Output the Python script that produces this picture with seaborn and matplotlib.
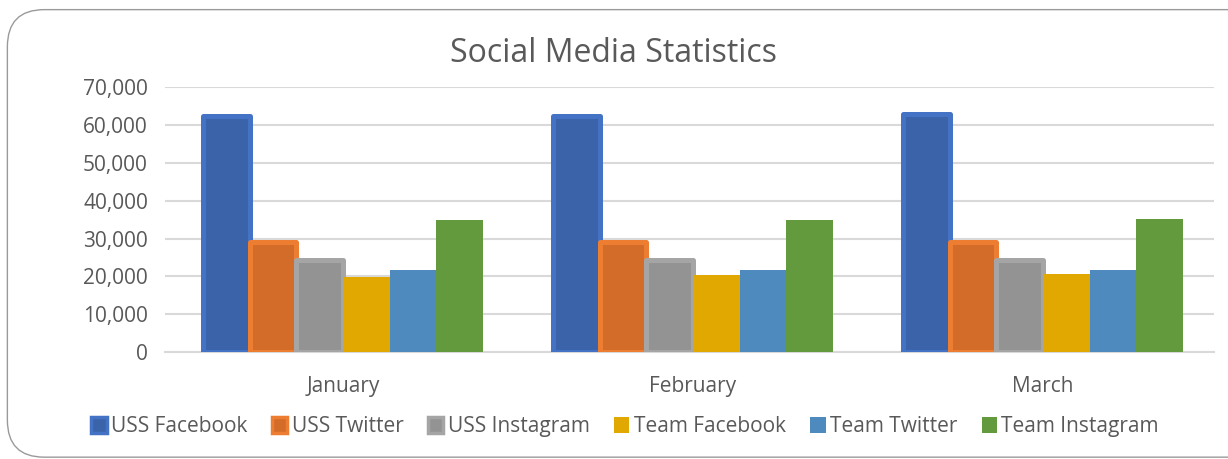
import pandas as pd
import matplotlib.pyplot as plt
import seaborn as sns
from matplotlib.patches import FancyBboxPatch
from matplotlib.ticker import FuncFormatter

# ---- data ----
months = ["January", "February", "March"]
series = ["USS Facebook", "USS Twitter", "USS Instagram",
          "Team Facebook", "Team Twitter", "Team Instagram"]
uss_facebook = [62300, 62500, 62900]
uss_twitter = [29000, 29000, 29000]
uss_instagram = [24300, 24300, 24300]
team_facebook = [19800, 20300, 20600]
team_twitter = [21600, 21600, 21600]
team_instagram = [34900, 34900, 35100]

fills = ["#3A63AA", "#D26C28", "#939393", "#E0A800", "#4E8ABE", "#629A3D"]
edges = ["#4472C4", "#ED7D31", "#A5A5A5", None, None, None]

values = [uss_facebook, uss_twitter, uss_instagram,
          team_facebook, team_twitter, team_instagram]
rows = []
for s, vals in zip(series, values):
    for m, v in zip(months, vals):
        rows.append({"month": m, "series": s, "value": v})
df = pd.DataFrame(rows)

sns.set_style("white")
plt.rcParams["font.family"] = ["Open Sans", "DejaVu Sans"]
text_col = "#595959"

fig = plt.figure(figsize=(12.28, 4.59), dpi=100)
ax = fig.add_axes([0.134, 0.233, 0.855, 0.577])

sns.barplot(data=df, x="month", y="value", hue="series", hue_order=series,
            order=months, palette=fills, saturation=1, width=0.8, gap=0,
            ax=ax, errorbar=None, zorder=3)

for cont, ec in zip(ax.containers, edges):
    for bar in cont:
        if ec:
            bar.set_edgecolor(ec)
            bar.set_linewidth(3.6)
            bar.set_joinstyle("round")
        else:
            bar.set_edgecolor("none")

ax.set_ylim(0, 70000)
ax.set_yticks(range(0, 70001, 10000))
ax.yaxis.set_major_formatter(FuncFormatter(lambda v, p: f"{int(v):,}"))
ax.grid(axis="y", color="#D9D9D9", linewidth=1.5, zorder=0)
ax.set_axisbelow(True)
for sp in ["top", "right", "left"]:
    ax.spines[sp].set_visible(False)
ax.spines["bottom"].set_color("#D9D9D9")
ax.spines["bottom"].set_linewidth(1.5)
ax.tick_params(axis="both", length=0, labelsize=15, labelcolor=text_col)
ax.tick_params(axis="x", pad=17)
ax.tick_params(axis="y", pad=12)
ax.set_xlabel("")
ax.set_ylabel("")
ax.set_xlim(-0.51, 2.49)

fig.suptitle("Social Media Statistics", y=0.92, fontsize=23, color=text_col)

handles, labels = ax.get_legend_handles_labels()
ax.legend_.remove()
for h, ec in zip(handles, edges):
    if ec:
        h.set_edgecolor(ec)
        h.set_linewidth(2.5)
    else:
        h.set_edgecolor("none")
fig.legend(handles, labels, loc="center", bbox_to_anchor=(0.509, 0.07),
           ncol=6, frameon=False, fontsize=15, labelcolor=text_col,
           handlelength=0.75, handleheight=0.75, handletextpad=0.2,
           columnspacing=1.17)

# rounded chart border
box = FancyBboxPatch((0.006, 0.004), 1.2, 0.975,
                     boxstyle="round,pad=0,rounding_size=0.03",
                     transform=fig.transFigure, fill=False,
                     edgecolor="#9A9A9A", linewidth=1.0, mutation_aspect=2.7)
fig.patches.append(box)

fig.savefig("out.png", dpi=100)
